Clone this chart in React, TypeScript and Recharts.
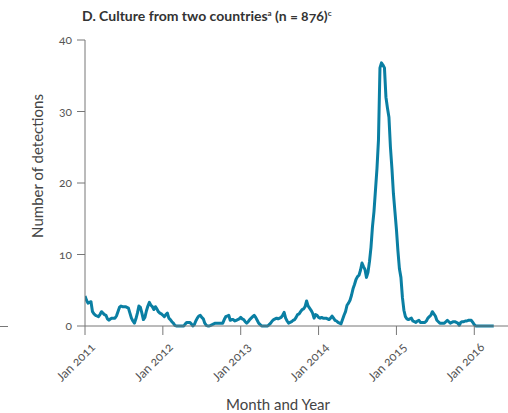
import { Line, LineChart, XAxis, YAxis } from "recharts";

const FONT = "Lato, 'Open Sans', sans-serif";
const LINE_COLOR = "#0a7fa3";
const AXIS_COLOR = "#777";

// weekly detections, one array per calendar year (52 weeks each)
const START_YEAR = 2011;
const WEEKS_PER_YEAR = 52;

const weeks2011 = [
  4.2, 3.6, 3.2, 3.3, 3.4, 2.0, 1.7, 1.5, 1.4, 1.3,
  1.6, 2.0, 1.8, 1.6, 1.5, 1.0, 0.8, 1.0, 1.1, 1.1,
  1.1, 1.4, 2.0, 2.6, 2.8, 2.7, 2.7, 2.7, 2.6, 2.5,
  1.8, 1.1, 0.7, 0.4, 1.0, 1.8, 2.8, 2.6, 1.8, 0.9,
  1.2, 2.1, 2.8, 3.3, 2.9, 2.7, 2.3, 2.7, 2.4, 2.0,
  1.8, 1.7,
];
const weeks2012 = [
  1.5, 1.3, 1.6, 1.8, 1.1, 0.9, 0.6, 0.4, 0.1, 0,
  0, 0, 0, 0, 0, 0.3, 0.5, 0.5, 0.5, 0.3,
  0, 0.2, 0.7, 1.1, 1.4, 1.5, 1.2, 1.0, 0.4, 0.1,
  0, 0, 0.1, 0.2, 0.3, 0.4, 0.4, 0.4, 0.4, 0.4,
  0.4, 0.9, 1.3, 1.4, 1.5, 0.8, 0.9, 0.9, 0.7, 0.8,
  0.9, 1.0,
];
const weeks2013 = [
  1.2, 1.0, 0.9, 0.6, 0.4, 0.6, 0.9, 1.1, 1.3, 1.5,
  1.2, 0.8, 0.4, 0.2, 0, 0, 0, 0, 0, 0.2,
  0.4, 0.7, 0.9, 1.0, 1.1, 1.0, 1.1, 1.2, 1.5, 1.9,
  1.1, 0.7, 0.4, 0.5, 0.6, 0.8, 0.9, 1.2, 1.6, 1.7,
  2.0, 2.3, 2.4, 2.7, 3.5, 2.8, 2.5, 2.2, 1.8, 1.1,
  1.6, 1.5,
];
const weeks2014 = [
  1.2, 1.1, 1.2, 1.1, 1.1, 1.1, 1.0, 0.9, 1.1, 1.4,
  1.1, 0.8, 0.7, 0.5, 0.4, 0.3, 0.9, 1.5, 2.0, 2.9,
  3.2, 3.6, 4.3, 5.2, 5.8, 6.5, 6.9, 7.1, 7.8, 8.8,
  8.3, 7.9, 6.8, 7.5, 9.0, 11.0, 13.9, 16.0, 19.0, 22.0,
  26.0, 36.1, 36.8, 36.5, 36.1, 32.0, 30.5, 29.2, 25.0, 22.0,
  18.5, 16.0,
];
const weeks2015 = [
  13.5, 10.5, 8.0, 6.8, 4.0, 2.2, 1.3, 1.0, 0.9, 1.0,
  1.1, 0.7, 0.6, 0.5, 0.7, 0.8, 0.5, 0.5, 0.5, 0.5,
  0.7, 1.1, 1.3, 1.5, 2.0, 1.7, 1.4, 0.8, 0.6, 0.4,
  0.4, 0.4, 0.4, 0.6, 0.8, 0.6, 0.4, 0.5, 0.6, 0.6,
  0.5, 0.4, 0.1, 0.5, 0.6, 0.6, 0.7, 0.7, 0.8, 0.8,
  0.8, 0.5,
];
const weeks2016 = [0.2, 0, 0, 0, 0, 0, 0, 0, 0, 0, 0, 0, 0, 0];

const yearTicks = [2011, 2012, 2013, 2014, 2015, 2016];
const countTicks = [0, 10, 20, 30, 40];

const weekly = [
  ...weeks2011,
  ...weeks2012,
  ...weeks2013,
  ...weeks2014,
  ...weeks2015,
  ...weeks2016,
];
const data = weekly.map((n, i) => ({ t: START_YEAR + i / WEEKS_PER_YEAR, n }));

function YearTick({ x, y, payload }: any) {
  const tx = x + 11;
  const ty = y + 11;
  return (
    <text
      x={tx}
      y={ty}
      transform={`rotate(-45, ${tx}, ${ty})`}
      textAnchor="end"
      fontSize={12.5}
      fill="#555"
      fontFamily={FONT}
      style={{ fontVariantNumeric: "oldstyle-nums" }}
    >
      {`Jan ${payload.value}`}
    </text>
  );
}

export default function App() {
  return (
    <div
      style={{
        position: "absolute",
        left: 0,
        top: 0,
        width: 508,
        height: 413,
        background: "#fff",
        fontFamily: FONT,
      }}
    >
      <LineChart
        width={508}
        height={413}
        data={data}
        margin={{ top: 40, right: 0, bottom: 27, left: 0 }}
      >
        <XAxis
          dataKey="t"
          type="number"
          domain={[2011, 2016.433]}
          ticks={yearTicks}
          allowDataOverflow
          tick={<YearTick />}
          tickSize={9}
          stroke={AXIS_COLOR}
          height={60}
        />
        <YAxis
          type="number"
          domain={[0, 40]}
          ticks={countTicks}
          width={85}
          tickSize={8}
          tickMargin={5}
          stroke={AXIS_COLOR}
          tick={{ fill: "#555", fontSize: 12, fontFamily: FONT, style: { fontVariantNumeric: "oldstyle-nums" } }}
        />
        <Line
          type="linear"
          dataKey="n"
          stroke={LINE_COLOR}
          strokeWidth={3}
          strokeLinejoin="round"
          dot={false}
          isAnimationActive={false}
        />
      </LineChart>
      <svg
        width={508}
        height={413}
        style={{ position: "absolute", left: 0, top: 0, pointerEvents: "none" }}
      >
        <text x={82} y={21} fontSize={14} fontWeight={700} fill="#333" fontFamily={FONT}
          style={{ fontVariantNumeric: "oldstyle-nums" }}>
          D. Culture from two countries
          <tspan fontSize={8} dy={-5}>a</tspan>
          <tspan dy={5}> (n = 876)</tspan>
          <tspan fontSize={8} dy={-5}>c</tspan>
        </text>
        <text
          x={43}
          y={166}
          transform="rotate(-90, 43, 166)"
          textAnchor="middle"
          fontSize={15}
          fill="#444"
          fontFamily={FONT}
        >
          Number of detections
        </text>
        <text x={278} y={410} textAnchor="middle" fontSize={15} fill="#444" fontFamily={FONT}>
          Month and Year
        </text>
        <line x1={0} x2={8} y1={326.5} y2={326.5} stroke={AXIS_COLOR} />
      </svg>
    </div>
  );
}
